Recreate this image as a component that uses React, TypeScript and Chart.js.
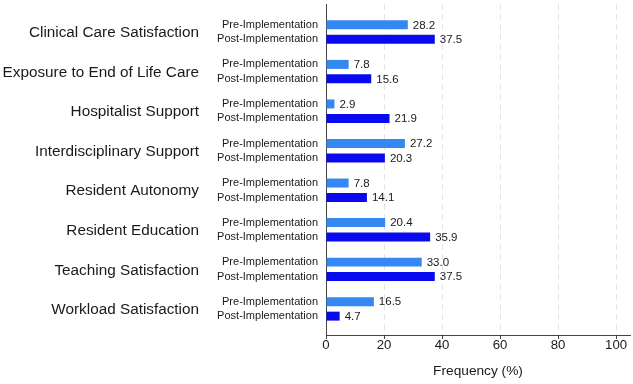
import React, { useEffect, useRef } from 'react';
import { Chart, registerables } from 'chart.js';

Chart.register(...registerables);

const categories = [
  'Clinical Care Satisfaction',
  'Exposure to End of Life Care',
  'Hospitalist Support',
  'Interdisciplinary Support',
  'Resident Autonomy',
  'Resident Education',
  'Teaching Satisfaction',
  'Workload Satisfaction',
];
const seriesLabels = ['Pre-Implementation', 'Post-Implementation'];
const preValues = [28.2, 7.8, 2.9, 27.2, 7.8, 20.4, 33.0, 16.5];
const postValues = [37.5, 15.6, 21.9, 20.3, 14.1, 35.9, 37.5, 4.7];
const xTicks = [0, 20, 40, 60, 80, 100];
const axisTitle = 'Frequency (%)';

const FONT = '"Liberation Sans", Arial, Helvetica, sans-serif';
const TEXT = '#1a1a1a';

const labelPlugin = {
  id: 'customLabels',
  afterDatasetsDraw(chart: any) {
    const ctx = chart.ctx;
    const yScale = chart.scales.y;
    const left = chart.chartArea.left;
    ctx.save();
    ctx.fillStyle = TEXT;
    ctx.textBaseline = 'middle';
    ctx.textAlign = 'right';
    ctx.font = `15.3px ${FONT}`;
    categories.forEach((c, i) => {
      ctx.fillText(c, left - 127, yScale.getPixelForValue(i) + 1);
    });
    const all = [preValues, postValues];
    [0, 1].forEach((d) => {
      const meta = chart.getDatasetMeta(d);
      meta.data.forEach((bar: any, i: number) => {
        ctx.font = `11px ${FONT}`;
        ctx.textAlign = 'right';
        ctx.fillText(seriesLabels[d], left - 8, bar.y);
        ctx.font = `11.5px ${FONT}`;
        ctx.textAlign = 'left';
        ctx.fillText(all[d][i].toFixed(1), bar.x + 5, bar.y + 0.5);
      });
    });
    ctx.restore();
  },
};

export default function App() {
  const ref = useRef<HTMLCanvasElement>(null);

  useEffect(() => {
    const canvas = ref.current;
    if (!canvas) return;
    const chart = new Chart(canvas, {
      type: 'bar',
      data: {
        datasets: [
          {
            label: seriesLabels[0],
            data: categories.map((_, i) => ({ x: preValues[i], y: i })),
            backgroundColor: '#3388f2',
            categoryPercentage: 0.732,
            barPercentage: 0.62,
          },
          {
            label: seriesLabels[1],
            data: categories.map((_, i) => ({ x: postValues[i], y: i })),
            backgroundColor: '#0a0af0',
            categoryPercentage: 0.732,
            barPercentage: 0.62,
          },
        ],
      },
      options: {
        indexAxis: 'y',
        animation: false,
        responsive: false,
        maintainAspectRatio: false,
        layout: { padding: { left: 326, top: 4, right: 3, bottom: 0 } },
        plugins: {
          legend: { display: false },
          tooltip: { enabled: false },
        },
        scales: {
          y: {
            type: 'linear',
            reverse: true,
            offset: false,
            bounds: 'data',
            min: -0.71,
            max: 7.66,
            afterBuildTicks: (scale: any) => {
              scale.ticks = categories.map((_, i) => ({ value: i }));
            },
            afterFit: (scale: any) => {
              scale.width = 0;
            },
            ticks: { display: false },
            grid: { display: false, drawTicks: false, offset: false },
            border: { display: true, color: '#444', width: 1 },
          },
          x: {
            type: 'linear',
            min: 0,
            max: 104.8,
            afterBuildTicks: (scale: any) => {
              scale.ticks = xTicks.map((v) => ({ value: v }));
            },
            afterFit: (scale: any) => {
              scale.height = 49;
            },
            ticks: {
              color: TEXT,
              font: { family: FONT, size: 13.2 },
              padding: -2,
              maxRotation: 0,
              autoSkip: false,
            },
            grid: {
              color: (c: any) => (c.tick && c.tick.value === 0 ? 'rgba(0,0,0,0)' : '#e4e4e4'),
              lineWidth: 1,
              drawTicks: true,
              tickLength: 4,
              tickColor: '#444',
            },
            border: { display: true, color: '#444', width: 1, dash: [6, 4] },
            title: {
              display: true,
              text: axisTitle,
              color: TEXT,
              font: { family: FONT, size: 13.7 },
              padding: { top: 4, bottom: 5 },
            },
          },
        },
      },
      plugins: [labelPlugin],
    });
    return () => chart.destroy();
  }, []);

  return (
    <div style={{ position: 'absolute', left: 0, top: 0, width: 633, height: 384, background: '#fff' }}>
      <canvas ref={ref} width={633} height={384} style={{ display: 'block' }} />
    </div>
  );
}
